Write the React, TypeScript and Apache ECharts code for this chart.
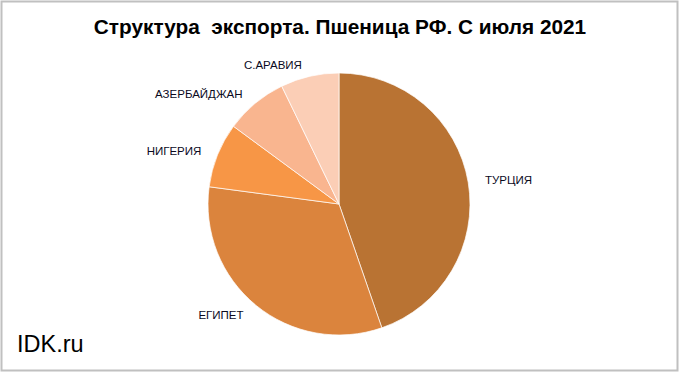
import React, { useEffect, useRef } from "react";
import * as echarts from "echarts";

const titleText = "Структура  экспорта. Пшеница РФ. С июля 2021";
const categories = ["ТУРЦИЯ", "ЕГИПЕТ", "НИГЕРИЯ", "АЗЕРБАЙДЖАН", "С.АРАВИЯ"];
const shares = [44.7, 32.4, 8.0, 7.7, 7.2];
const colors = ["#B97333", "#DB843D", "#F79646", "#F9B58F", "#FBCEB6"];
const watermark = "IDK.ru";

export default function App() {
  const ref = useRef<HTMLDivElement>(null);
  useEffect(() => {
    if (!ref.current) return;
    const chart = echarts.init(ref.current, null, { renderer: "svg" });
    chart.setOption({
      animation: false,
      backgroundColor: "#FFFFFF",
      title: {
        text: titleText,
        left: "center",
        top: 11,
        textStyle: {
          fontFamily: "Liberation Sans, Arial",
          fontWeight: "bold",
          fontSize: 20.8,
          color: "#000000",
        },
      },
      graphic: [
        {
          type: "rect",
          shape: { x: 1.5, y: 1.5, width: 676, height: 369 },
          style: { fill: "none", stroke: "#C0C0C0", lineWidth: 2 },
          silent: true,
        },
        {
          type: "text",
          left: 17,
          top: 332,
          style: {
            text: watermark,
            fontFamily: "Liberation Sans, Arial",
            fontSize: 23.5,
            fill: "#000000",
          },
        },
      ],
      series: [
        {
          type: "pie",
          center: [339, 204],
          radius: 131,
          startAngle: 90,
          clockwise: true,
          data: categories.map((name, i) => ({
            name,
            value: shares[i],
            itemStyle: { color: colors[i] },
          })),
          itemStyle: { borderColor: "#FFFFFF", borderWidth: 0.7 },
          label: {
            show: true,
            position: "outside",
            formatter: "{b}",
            fontFamily: "Liberation Sans, Arial",
            fontSize: 11.5,
            color: "#0A0A1E",
          },
          labelLine: { show: false, length: 12, length2: 0 },
          emphasis: { disabled: true },
        },
      ],
    });
    return () => chart.dispose();
  }, []);
  return (
    <div
      ref={ref}
      style={{ position: "fixed", left: 0, top: 0, width: 680, height: 375 }}
    />
  );
}
